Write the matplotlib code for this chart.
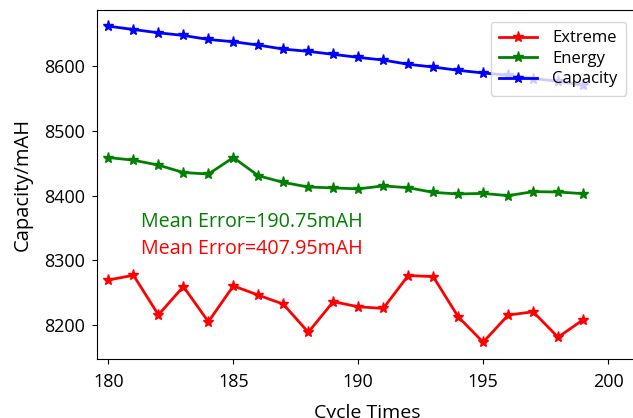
import matplotlib
matplotlib.use("Agg")
import matplotlib.pyplot as plt

plt.rcParams['font.family'] = ['Open Sans', 'DejaVu Sans']

cycles = list(range(180, 200))
extreme = [8269.7, 8276.9, 8215.8, 8259.5, 8205.1, 8260.5, 8246.2, 8232.3, 8188.8, 8236.2,
           8228.2, 8225.7, 8276.5, 8274.9, 8212.8, 8173.4, 8215.4, 8220.5, 8181.1, 8208.2]
energy = [8458.9, 8454.9, 8447.2, 8435.8, 8433.4, 8458.9, 8430.8, 8420.5, 8413.4, 8412.0,
          8410.5, 8415.1, 8412.3, 8405.1, 8402.6, 8403.5, 8400.0, 8406.2, 8405.7, 8403.1]
capacity = [8662.0, 8656.9, 8651.8, 8647.7, 8641.5, 8638.0, 8632.8, 8626.6, 8623.1, 8618.5,
            8613.8, 8609.7, 8603.1, 8598.9, 8593.8, 8589.7, 8586.2, 8581.1, 8576.9, 8570.8]
error_energy = "Mean Error=190.75mAH"
error_extreme = "Mean Error=407.95mAH"

fig = plt.figure(figsize=(6.33, 4.18), dpi=100)
# the right spine sits just past the figure edge
ax = fig.add_axes([0.1528, 0.1404, 0.8551, 0.8356])
ax.spines['right'].set_visible(False)

ax.plot(cycles, extreme, color='red', marker='*', markersize=8, linewidth=2, label='Extreme')
ax.plot(cycles, energy, color='green', marker='*', markersize=8, linewidth=2, label='Energy')
ax.plot(cycles, capacity, color='blue', marker='*', markersize=8, linewidth=2, label='Capacity')

ax.set_xlim(179.53, 201.2)
ax.set_ylim(8147, 8687)
ax.set_xticks([180, 185, 190, 195, 200])
ax.set_yticks([8200, 8300, 8400, 8500, 8600])
ax.tick_params(labelsize=13)
ax.tick_params(axis='x', pad=6)
ax.tick_params(axis='y', pad=5)

ax.set_xlabel('Cycle Times', fontsize=14, labelpad=10)
ax.set_ylabel('Capacity/mAH', fontsize=14.5, labelpad=8)

ax.text(181.3, 8359, error_energy, color='green', fontsize=14.2, va='center')
ax.text(181.3, 8317, error_extreme, color='red', fontsize=14.2, va='center')

ax.legend(loc='upper right', fontsize=12, handlelength=2.3, borderpad=0.5,
          labelspacing=0.27, handletextpad=0.9, borderaxespad=0.72)

fig.savefig('out.png', dpi=100)
